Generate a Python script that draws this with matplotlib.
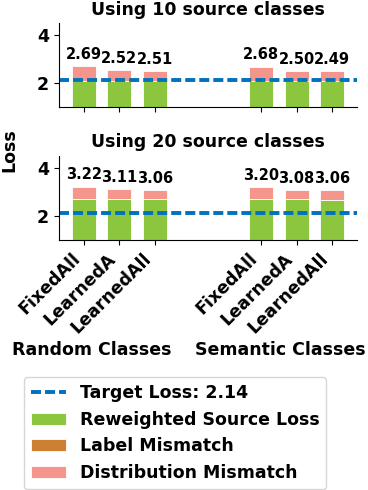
import matplotlib
matplotlib.use("Agg")
import matplotlib.pyplot as plt
import numpy as np

# ---- data ----
methods = ["FixedAll", "LearnedA", "LearnedAll"]
groups = ["Random Classes", "Semantic Classes"]
panel_titles = ["Using 10 source classes", "Using 20 source classes"]
target_loss = 2.14

# reweighted source loss (green part)
source_10 = [2.08, 2.08, 2.08, 2.08, 2.08, 2.08]
source_20 = [2.71, 2.71, 2.71, 2.71, 2.71, 2.68]
# label mismatch (orange part) - not visible in the chart
label_10 = [0.0, 0.0, 0.0, 0.0, 0.0, 0.0]
label_20 = [0.0, 0.0, 0.0, 0.0, 0.0, 0.0]
# total loss (printed on top of each bar)
total_10 = [2.69, 2.52, 2.51, 2.68, 2.50, 2.49]
total_20 = [3.22, 3.11, 3.06, 3.20, 3.08, 3.06]

c_source = "#8cc63f"
c_label = "#cd8033"
c_dist = "#f4968c"
c_target = "#0072bd"

plt.rcParams["font.weight"] = "bold"
plt.rcParams["lines.scale_dashes"] = False

x = np.array([0, 1, 2, 5, 6, 7])
width = 0.68

fig = plt.figure(figsize=(3.68, 4.9), dpi=100)
ax1 = fig.add_axes([0.160, 0.782, 0.810, 0.171])
ax2 = fig.add_axes([0.160, 0.510, 0.810, 0.172])

panels = [(ax1, source_10, label_10, total_10), (ax2, source_20, label_20, total_20)]
for i, (ax, src, lab, tot) in enumerate(panels):
    src = np.array(src)
    lab = np.array(lab)
    dist = np.array(tot) - src - lab
    b1 = ax.bar(x, src, width, color=c_source, edgecolor="white", linewidth=0.6,
                label="Reweighted Source Loss")
    b2 = ax.bar(x, lab, width, bottom=src, color=c_label, edgecolor="white",
                linewidth=0.6, label="Label Mismatch")
    b3 = ax.bar(x, dist, width, bottom=src + lab, color=c_dist, edgecolor="white",
                linewidth=0.6, label="Distribution Mismatch")
    ln = ax.axhline(target_loss, color=c_target, lw=2.8, ls="--", dashes=(7.2, 2.9),
                    label=f"Target Loss: {target_loss}")
    for xi, t in zip(x, tot):
        ax.annotate(f"{t:.2f}", (xi, t), xytext=(0, 3), textcoords="offset points",
                    ha="center", va="bottom", fontsize=10.5, fontweight="bold")
    ax.set_ylim(1, 4.5)
    ax.set_yticks([2, 4])
    ax.set_xticks(x)
    ax.set_xlim(-0.7, 7.7)
    ax.set_title(panel_titles[i], fontsize=12.5, fontweight="bold")
    ax.spines["top"].set_visible(False)
    ax.spines["right"].set_visible(False)
    ax.tick_params(labelsize=12.5)
    if i == 0:
        ax.set_xticklabels([])
    else:
        ax.set_xticklabels(methods * 2, rotation=45, ha="right", fontsize=12.5,
                           fontweight="bold")

fig.text(9 / 368, 0.694, "Loss", rotation=90, ha="center", va="center",
         fontsize=12.5, fontweight="bold")
fig.text(92 / 368, 1 - 350 / 490, groups[0], ha="center", va="center",
         fontsize=12.5, fontweight="bold")
fig.text(280 / 368, 1 - 350 / 490, groups[1], ha="center", va="center",
         fontsize=12.5, fontweight="bold")

fig.legend(handles=[ln, b1, b2, b3], loc="lower left",
           bbox_to_anchor=(24 / 368, 1 / 490), borderaxespad=0,
           prop={"size": 12.5, "weight": "bold"})

fig.savefig("out.png", dpi=100)
